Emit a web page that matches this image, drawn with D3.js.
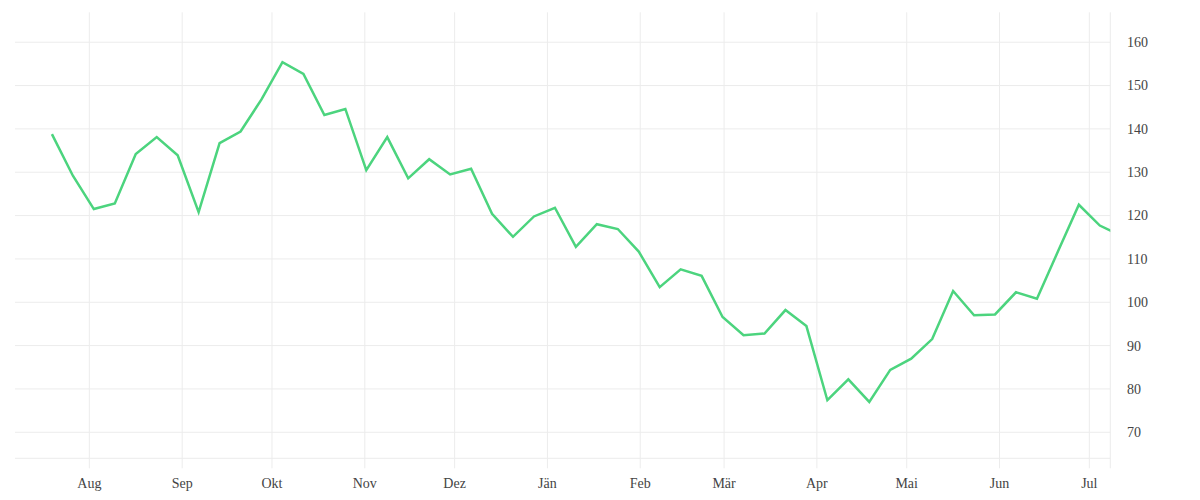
<!DOCTYPE html>
<html>
<head>
<meta charset="utf-8">
<script src="https://cdn.jsdelivr.net/npm/d3@7"></script>
<style>
  body { margin: 0; background: #fff; }
  text { font-family: "Liberation Serif", serif; }
</style>
</head>
<body>
<svg id="chart" width="1200" height="500"></svg>
<script>
// weekly values, first week starts 19 Jul 2022
const startDate = new Date(2022, 6, 19, 12);
const values = [
  138.8, 129.2, 121.5, 122.8, 134.2, 138.1, 133.9, 120.8, 136.7, 139.4,
  146.8, 155.4, 152.7, 143.2, 144.6, 130.5, 138.1, 128.6, 133.0, 129.5,
  130.8, 120.4, 115.1, 119.8, 121.8, 112.8, 118.0, 116.9, 111.7, 103.5,
  107.6, 106.1, 96.6, 92.4, 92.8, 98.2, 94.5, 77.4, 82.2, 77.0,
  84.4, 87.0, 91.5, 102.6, 97.0, 97.2, 102.3, 100.8, 111.7, 122.5,
  117.7, 115.4
];
const monthLabels = ["Aug", "Sep", "Okt", "Nov", "Dez", "Jän", "Feb", "Mär", "Apr", "Mai", "Jun", "Jul"];
const yTicks = [70, 80, 90, 100, 110, 120, 130, 140, 150, 160];

function drawChart() {
  const data = values.map((v, i) => ({ date: d3.timeDay.offset(startDate, i * 7), value: v }));

  const svg = d3.select("#chart");
  const left = 15, right = 1110.3, top = 12.3, bottom = 458.3;

  const x = d3.scaleTime()
    .domain([new Date(2022, 6, 7, 4), new Date(2023, 6, 8)])
    .range([left, right]);
  const y = d3.scaleLinear().domain([64, 166.9]).range([bottom, top]);

  const months = d3.timeMonth.range(new Date(2022, 7, 1), new Date(2023, 6, 2));

  // horizontal grid
  svg.append("g")
    .selectAll("line")
    .data(yTicks)
    .join("line")
    .attr("x1", left).attr("x2", right)
    .attr("y1", (d) => y(d)).attr("y2", (d) => y(d))
    .attr("stroke", "#ececec");

  // bottom line
  svg.append("line")
    .attr("x1", left).attr("x2", right)
    .attr("y1", bottom).attr("y2", bottom)
    .attr("stroke", "#ececec");

  // vertical grid (month starts), running 10px below the plot
  svg.append("g")
    .selectAll("line")
    .data(months)
    .join("line")
    .attr("x1", (d) => x(d)).attr("x2", (d) => x(d))
    .attr("y1", top).attr("y2", bottom + 10)
    .attr("stroke", "#ececec");

  // right edge
  svg.append("line")
    .attr("x1", right).attr("x2", right)
    .attr("y1", top).attr("y2", bottom + 10)
    .attr("stroke", "#ececec");

  // month labels
  svg.append("g")
    .selectAll("text")
    .data(months)
    .join("text")
    .attr("x", (d) => x(d))
    .attr("y", 488)
    .attr("text-anchor", "middle")
    .attr("font-size", "14px")
    .attr("fill", "#444")
    .text((d, i) => monthLabels[i]);

  // value labels on the right
  svg.append("g")
    .selectAll("text")
    .data(yTicks)
    .join("text")
    .attr("x", 1127)
    .attr("y", (d) => y(d))
    .attr("dy", "0.35em")
    .attr("font-size", "14px")
    .attr("fill", "#444")
    .text((d) => d);

  svg.append("clipPath")
    .attr("id", "plotclip")
    .append("rect")
    .attr("x", left).attr("y", top)
    .attr("width", right - left).attr("height", bottom - top);

  svg.append("path")
    .datum(data)
    .attr("clip-path", "url(#plotclip)")
    .attr("fill", "none")
    .attr("stroke", "#4cd47e")
    .attr("stroke-width", 2.5)
    .attr("stroke-linejoin", "miter")
    .attr("d", d3.line()
      .x((d) => x(d.date))
      .y((d) => y(d.value)));
}

drawChart();
</script>
</body>
</html>
